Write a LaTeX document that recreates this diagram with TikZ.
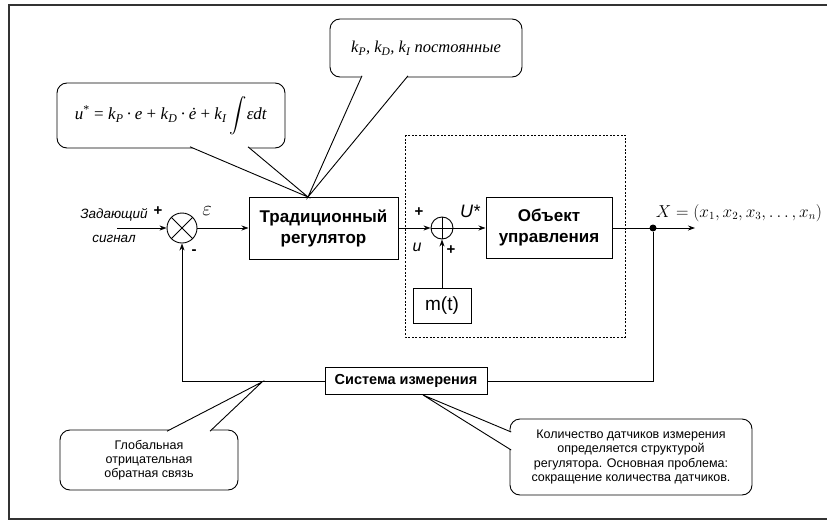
\documentclass[tikz,border=0pt]{standalone}
\usepackage{exscale}
\usepackage{fontspec}
\setmainfont{Liberation Serif}
\setsansfont{Liberation Sans}
\usetikzlibrary{calc,arrows.meta}
\tikzset{blk/.style={draw,line width=1pt,inner sep=2pt,align=center,font=\sffamily\bfseries\fontsize{17}{21}\selectfont},
  note/.style={draw,line width=0.9pt,rounded corners=10pt,align=center},
  tail/.style={draw,line width=0.9pt,fill=white},
  summ/.style={circle,draw,line width=0.9pt,inner sep=0pt},
  sgn/.style={inner sep=0pt,font=\sffamily\bfseries\fontsize{15}{15}\selectfont},
  sig/.style={inner sep=0pt,font=\sffamily\itshape\fontsize{16}{16}\selectfont},
  dashbox/.style={line width=1pt,dash pattern=on 2pt off 1.6pt},
  frame/.style={line width=1.2pt,black!80}}

\begin{document}
\begin{tikzpicture}[x=1pt,y=-1pt,>={Stealth[length=7pt,width=5pt]},line width=0.8pt]
    \useasboundingbox (0,0) rectangle (827,522);
    \draw[frame] (827,5) -- (9,5) -- (9,519) -- (827,519);

    \node[summ,minimum size=30pt] (s1) at (182,228) {};
    \draw (s1.north west) -- (s1.south east) (s1.north east) -- (s1.south west);
    \node[blk,minimum width=149pt,minimum height=62pt] (reg) at (323.5,228) {Традиционный\\регулятор};
    \draw[dashbox] (405,135) rectangle (625,337);
    \node[summ,minimum size=22pt] (s2) at (442,228) {};
    \draw (s2.north) -- (s2.south) (s2.west) -- (s2.east);
    \node[blk,minimum width=126pt,minimum height=61pt] (obj) at (549,228) {Объект\\управления};
    \node[blk,font=\sffamily\fontsize{19}{19}\selectfont,minimum width=58pt,minimum height=35pt] (mt) at (442,305.5) {m(t)};
    \node[blk,font=\sffamily\bfseries\fontsize{14.5}{15}\selectfont,minimum width=162pt,minimum height=27pt] (sys) at (406,381) {Система измерения};
    \node[circle,fill,inner sep=0pt,minimum size=7pt] (dot) at (653,228) {};

    \coordinate (in) at (117,228);
    \coordinate (out) at (695,228);
    \draw[->] (in) -- (s1);
    \draw[->] (s1) -- (reg);
    \draw[->] (reg) -- (s2);
    \draw[->] (s2) -- (obj);
    \draw[->] (obj) -- (out);
    \draw (dot) |- (sys);
    \draw[->] (sys) -| (s1);
    \draw[->] (mt) -- (s2);

    \node[align=center,inner sep=0pt,font=\sffamily\itshape\fontsize{13.5}{24}\selectfont] (zad) at (114,226) {Задающий\\сигнал};
    \node[sgn] (p1) at (158,211) {+};
    \node[sgn] (m1) at (194,252) {-};
    \node[inner sep=0pt,font=\fontsize{20}{20}\selectfont] (eps) at (207,211) {$\varepsilon$};
    \node[sgn] (p2) at (419,212) {+};
    \node[sig] (u) at (417,247) {u};
    \node[sig,font=\sffamily\itshape\fontsize{18}{18}\selectfont] (ustar) at (470,211) {U*};
    \node[sgn] (p3) at (451,250) {+};
    \node[inner sep=0pt,font=\fontsize{16}{16}\selectfont] (xout) at (739,213) {$X=(x_1,x_2,x_3,\ldots,x_n)$};

    \node[note,minimum width=228pt,minimum height=65pt,font=\fontsize{17}{17}\selectfont] (f1) at (171,115.5)
        {\textit{u}\textsuperscript{*} = \textit{k}\textsubscript{\itshape P}\,·\,\textit{e} + \textit{k}\textsubscript{\itshape D}\,·\,\textit{ė} + \textit{k}\textsubscript{\itshape I}\,$\displaystyle\int$\textit{εdt}};
    \node[note,minimum width=192pt,minimum height=58pt,font=\itshape\fontsize{16.5}{16.5}\selectfont] (f2) at (426,48)
        {k\textsubscript{P}, k\textsubscript{D}, k\textsubscript{I} постоянные};
    \node[note,minimum width=178pt,minimum height=60pt,font=\sffamily\fontsize{12.5}{14}\selectfont] (f3) at (149,460)
        {Глобальная\\отрицательная\\обратная связь};
    \node[note,minimum width=242pt,minimum height=76pt,font=\sffamily\fontsize{12.5}{14.5}\selectfont] (f4) at (631,457)
        {Количество датчиков измерения\\определяется структурой\\регулятора. Основная проблема:\\сокращение количества датчиков.};

    \coordinate (tipreg) at (308,197);
    \coordinate (tipfb) at (262,382);
    \coordinate (tipsys) at (423,395);
    \coordinate (f1p) at (190,146.8);
    \coordinate (f1q) at (248,146.8);
    \coordinate (f2p) at (362,75.8);
    \coordinate (f2q) at (408,75.8);
    \coordinate (f3p) at (167,431.2);
    \coordinate (f3q) at (210,431.2);
    \coordinate (f4p) at (511.2,432);
    \coordinate (f4q) at (511.2,450);

    \draw[tail] (f1p) -- (tipreg) -- (f1q);
    \draw[tail] (f2p) -- (tipreg) -- (f2q);
    \draw[tail] (f3p) -- (tipfb) -- (f3q);
    \draw[tail] (f4p) -- (tipsys) -- (f4q);
\end{tikzpicture}
\end{document}
